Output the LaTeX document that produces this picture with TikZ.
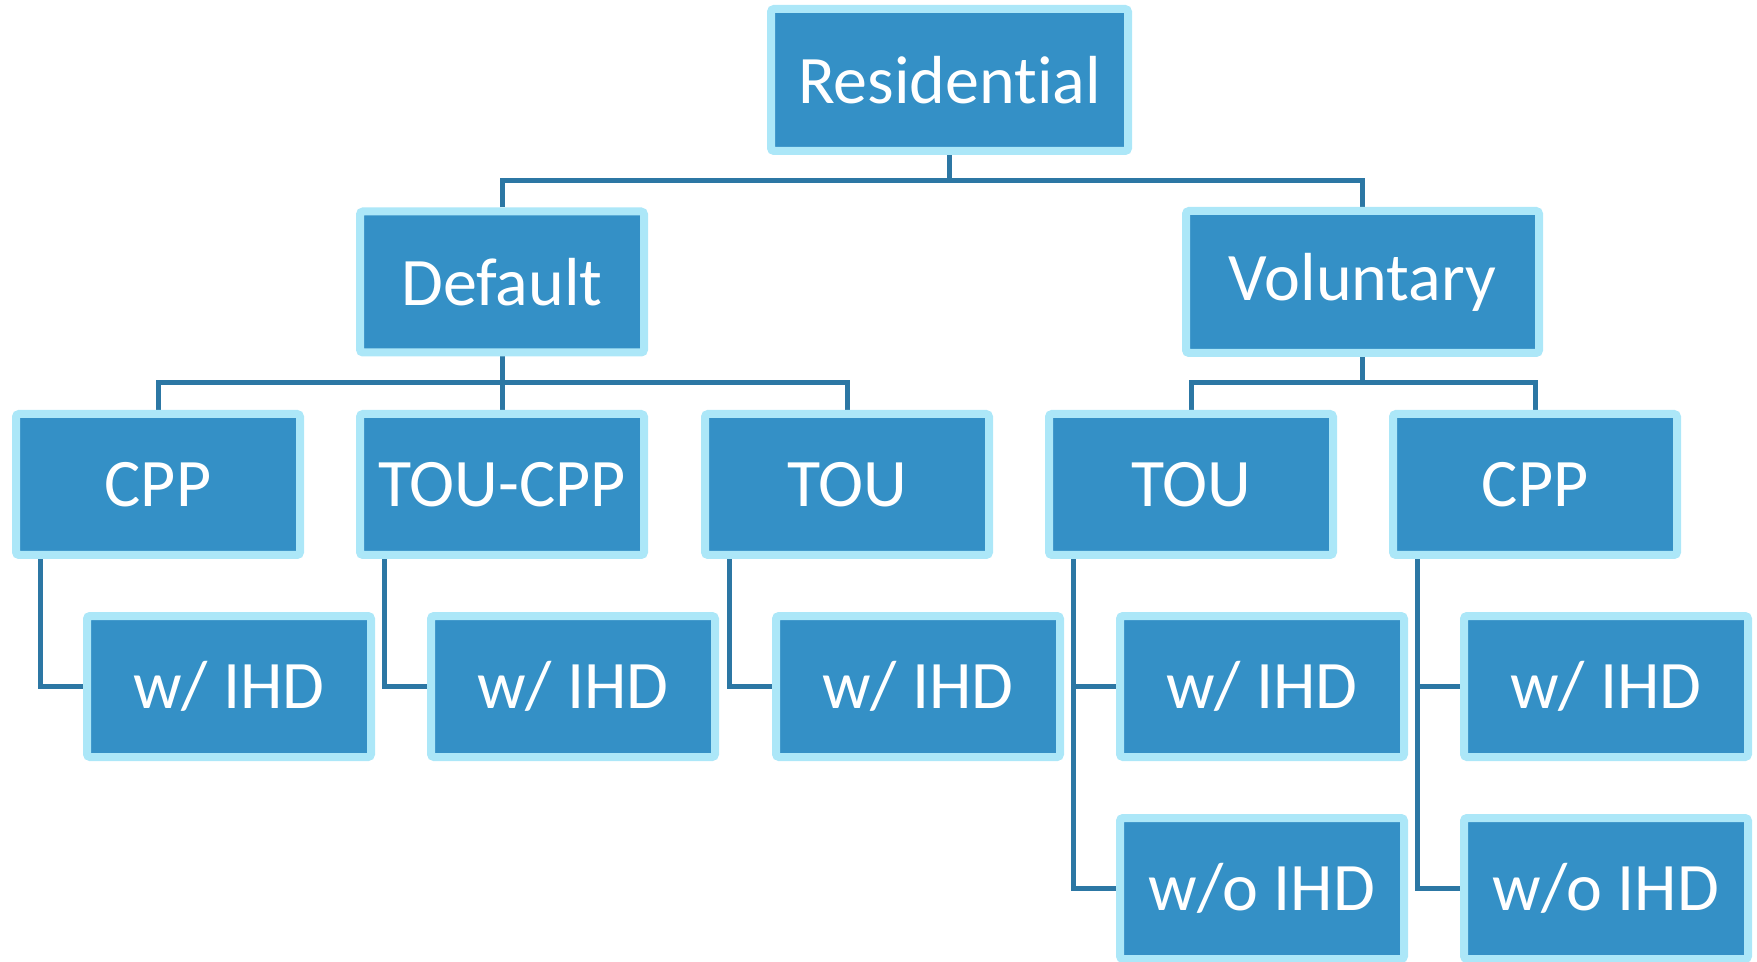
\documentclass[tikz,border=0pt]{standalone}
\usepackage{fontspec}
\setmainfont{Carlito}[Ligatures=NoCommon]
\usetikzlibrary{shadows,calc,backgrounds}
\definecolor{boxfill}{RGB}{52,144,198}
\definecolor{boxedge}{RGB}{172,231,248}
\definecolor{linecol}{RGB}{44,119,164}
\tikzset{
  box/.style={draw=boxedge, fill=boxfill, line width=4pt, rounded corners=1.5pt,
    minimum width=142pt, minimum height=70.5pt, inner sep=0pt, text=white,
    font=\fontsize{34}{40}\selectfont,
    drop shadow={shadow xshift=1pt, shadow yshift=-1.5pt, opacity=0.3, fill=black}},
  widebox/.style={box, minimum width=178.5pt, minimum height=71pt},
  volbox/.style={box, minimum width=176.5pt, minimum height=71pt},
  conn/.style={draw=linecol, line width=2.5pt}
}
\begin{document}
\begin{tikzpicture}[x=0.5pt,y=-0.5pt]
\useasboundingbox (0,0) rectangle (1757,962);
% level 1
\node[widebox] (res) at (949.5,80) {Residential};
% level 2
\node[box] (def) at (502,282) {Default};
\node[volbox] (vol) at (1362.5,282) {Voluntary};
% level 3
\node[box] (c1) at (158,484.5) {CPP};
\node[box] (c2) at (502,484.5) {TOU-CPP};
\node[box] (c3) at (847,484.5) {TOU};
\node[box] (c4) at (1191,484.5) {TOU};
\node[box] (c5) at (1535,484.5) {CPP};
% level 4
\node[box] (w1) at (229,686.5) {w/ IHD};
\node[box] (w2) at (573,686.5) {w/ IHD};
\node[box] (w3) at (918,686.5) {w/ IHD};
\node[box] (w4) at (1262,686.5) {w/ IHD};
\node[box] (w5) at (1606,686.5) {w/ IHD};
% level 5
\node[box] (o4) at (1262,888.5) {w/o IHD};
\node[box] (o5) at (1606,888.5) {w/o IHD};
% junctions
\coordinate (j1) at (949.5,181);
\coordinate (j2) at (502,383);
\coordinate (j3) at (1362.5,383);
\coordinate (a1) at ($(c1.south west)+(28,0)$);
\coordinate (a2) at ($(c2.south west)+(28,0)$);
\coordinate (a3) at ($(c3.south west)+(28,0)$);
\coordinate (a4) at ($(c4.south west)+(28,0)$);
\coordinate (a5) at ($(c5.south west)+(28,0)$);
\begin{scope}[on background layer]
\draw[conn] (res.south) -- (j1);
\draw[conn] (def.north) |- (j1) -| (vol.north);
\draw[conn] (def.south) -- (j2);
\draw[conn] (c1.north) |- (j2) -| (c3.north);
\draw[conn] (j2) -- (c2.north);
\draw[conn] (vol.south) -- (j3);
\draw[conn] (c4.north) |- (j3) -| (c5.north);
\draw[conn] (a1) |- (w1.west);
\draw[conn] (a2) |- (w2.west);
\draw[conn] (a3) |- (w3.west);
\draw[conn] (a4) |- (o4.west);
\draw[conn] (a4 |- w4.west) -- (w4.west);
\draw[conn] (a5) |- (o5.west);
\draw[conn] (a5 |- w5.west) -- (w5.west);
\end{scope}
\end{tikzpicture}
\end{document}
